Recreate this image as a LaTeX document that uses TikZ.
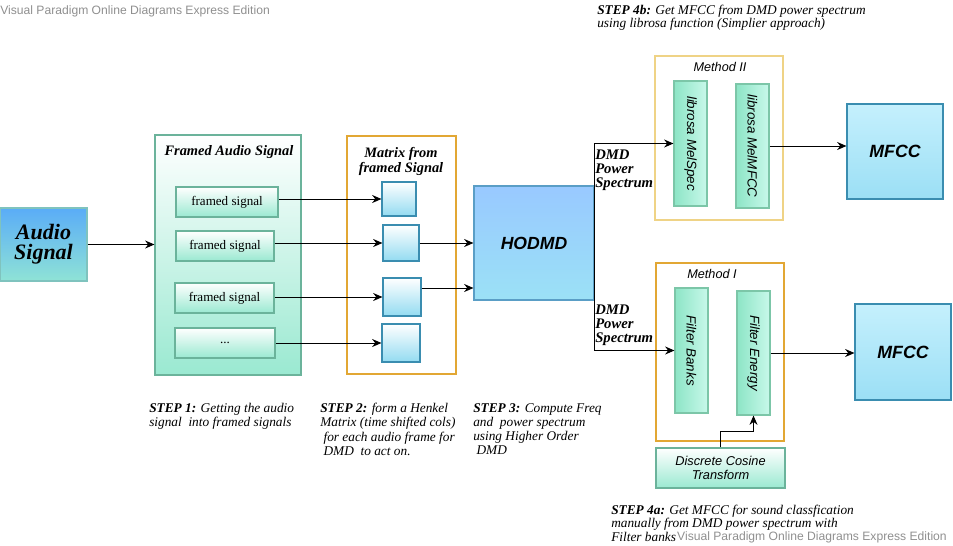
\documentclass[tikz,border=0pt]{standalone}
\usepackage{fontspec}
\usepackage{graphicx}
\setmainfont{Liberation Serif}
\setsansfont{Liberation Sans}
\usetikzlibrary{arrows.meta}

\definecolor{mintline}{HTML}{6BB39B}
\definecolor{mintbot}{HTML}{9AE9D1}
\definecolor{audioline}{HTML}{7FC3BE}
\definecolor{bluetop}{HTML}{5AACF7}
\definecolor{audiobot}{HTML}{8FE3D6}
\definecolor{orangeline}{HTML}{E2A734}
\definecolor{paleorange}{HTML}{EFD386}
\definecolor{sqline}{HTML}{3A8DB0}
\definecolor{sqbot}{HTML}{93DBF1}
\definecolor{hodtop}{HTML}{99C9FF}
\definecolor{hodbot}{HTML}{9BE1F6}
\definecolor{hodline}{HTML}{5A9EC6}
\definecolor{colline}{HTML}{7CC6A8}
\definecolor{colleft}{HTML}{8DE5C6}
\definecolor{colright}{HTML}{C8F8EA}
\definecolor{mfcctop}{HTML}{C5F0FD}
\definecolor{mfccbot}{HTML}{9BDFF5}
\definecolor{wmgray}{HTML}{8F8F8F}

\begin{document}
\begin{tikzpicture}[x=0.75pt,y=-0.75pt,
	mintbox/.style={draw=mintline,line width=0.8pt,top color=white,bottom color=mintbot},
	framebox/.style={mintbox,minimum height=22.5pt,font=\fontsize{9.8}{11}\selectfont},
	cell/.style={draw=sqline,line width=0.8pt,top color=white,bottom color=sqbot},
	group/.style={draw=orangeline,line width=0.8pt},
	col/.style={draw=colline,line width=0.8pt,left color=colleft,right color=colright,minimum width=24.75pt,font=\sffamily\itshape\fontsize{10}{12}\selectfont},
	mfcc/.style={draw=sqline,line width=0.8pt,top color=mfcctop,bottom color=mfccbot,minimum width=72pt,font=\sffamily\bfseries\itshape\fontsize{13.3}{15}\selectfont},
	dmd/.style={anchor=north west,inner sep=0pt,align=left,font=\bfseries\itshape\fontsize{11}{10.5}\selectfont},
	note/.style={anchor=north west,inner sep=0pt,align=left,font=\itshape\fontsize{10}{10.7}\selectfont},
	wmark/.style={inner sep=0pt,text=wmgray,font=\sffamily\fontsize{9.1}{11}\selectfont},
	line/.style={-{Stealth[length=7pt,width=6pt]},line width=0.75pt},
]
\useasboundingbox (0,0) rectangle (953,546);

% watermarks
\node[wmark,anchor=west] (wmtop) at (0,11) {Visual Paradigm Online Diagrams Express Edition};
\node[wmark,anchor=east] (wmbot) at (947,537) {Visual Paradigm Online Diagrams Express Edition};

% step 1: framing
\node[draw=audioline,line width=0.8pt,top color=bluetop,bottom color=audiobot,minimum width=65.25pt,minimum height=54.75pt,align=center,font=\bfseries\itshape\fontsize{16.5}{15}\selectfont] (audio) at (43.5,244.5) {Audio\\Signal};
\node[mintbox,minimum width=109.5pt,minimum height=180pt] (framed) at (228,255) {};
\node[font=\bfseries\itshape\fontsize{10.8}{12}\selectfont] (framedtitle) at (229,152) {Framed Audio Signal};
\node[framebox,minimum width=76.5pt] (fs1) at (227,202) {framed signal};
\node[framebox,minimum width=73.5pt] (fs2) at (225,246) {framed signal};
\node[framebox,minimum width=74.25pt] (fs3) at (224.5,298) {framed signal};
\node[framebox,minimum width=75pt] (fs4) at (225,343) {...};

% step 2: matrix
\node[group,minimum width=81.75pt,minimum height=178.5pt] (matrix) at (401.5,255) {};
\node[align=center,font=\bfseries\itshape\fontsize{10.8}{11.25}\selectfont] (matrixtitle) at (401,161) {Matrix from\\framed Signal};
\node[cell,minimum width=25.5pt,minimum height=25.5pt] (sq1) at (399,199) {};
\node[cell,minimum width=27pt,minimum height=27pt] (sq2) at (401,243) {};
\node[cell,minimum width=28.5pt,minimum height=28.5pt] (sq3) at (402,297) {};
\node[cell,minimum width=28.5pt,minimum height=28.5pt] (sq4) at (401,343) {};

% step 3
\node[draw=hodline,line width=0.8pt,top color=hodtop,bottom color=hodbot,minimum width=90pt,minimum height=85.5pt,font=\sffamily\bfseries\itshape\fontsize{13.2}{15}\selectfont] (hodmd) at (534,243) {HODMD};
\node[dmd] (dmdtop) at (595,150) {DMD\\Power\\Spectrum};
\node[dmd] (dmdbot) at (595,305) {DMD\\Power\\Spectrum};

% method II
\node[group,draw=paleorange,minimum width=96pt,minimum height=123pt] (method2) at (719,138) {};
\node[font=\sffamily\itshape\fontsize{9.5}{11}\selectfont] (m2title) at (720,67) {Method II};
\node[col,minimum height=93.75pt] (melspec) at (690.5,143.5) {\rotatebox{-90}{librosa MelSpec}};
\node[col,minimum height=93pt] (melmfcc) at (752.5,146) {\rotatebox{-90}{librosa MelMFCC}};
\node[mfcc,minimum height=71.25pt] (mfcc1) at (895,151.5) {MFCC};

% method I
\node[group,minimum width=96pt,minimum height=133.5pt] (method1) at (720,352) {};
\node[font=\sffamily\itshape\fontsize{9.5}{11}\selectfont] (m1title) at (712,274) {Method I};
\node[col,minimum height=93.75pt] (fbanks) at (691.5,350.5) {\rotatebox{-90}{Filter Banks}};
\node[col,minimum height=93pt] (fenergy) at (753.5,353) {\rotatebox{-90}{Filter Energy}};
\node[mfcc,minimum height=72pt] (mfcc2) at (903,352) {MFCC};
\node[mintbox,minimum width=96.75pt,minimum height=30pt,align=center,font=\sffamily\itshape\fontsize{9.6}{10}\selectfont] (dct) at (720.5,468) {Discrete Cosine\\Transform};

% notes
\node[note] (step1) at (149,403) {\textbf{STEP 1:} Getting the audio\\signal\ \ into framed signals};
\node[note] (step2) at (320,403) {\textbf{STEP 2:} form a Henkel\\Matrix (time shifted cols)\\\hspace{2.5pt}for each audio frame for\\\hspace{2.5pt}DMD\ \ to act on.};
\node[note] (step3) at (473,403) {\textbf{STEP 3:} Compute Freq\\and\ \ power spectrum\\using Higher Order\\\hspace{2.5pt}DMD};
\node[note,font=\itshape\fontsize{10}{10}\selectfont] (step4b) at (597,5) {\textbf{STEP 4b:} Get MFCC from DMD power spectrum\\using librosa function (Simplier approach)};
\node[note,font=\itshape\fontsize{10}{10}\selectfont] (step4a) at (611,505) {\textbf{STEP 4a:} Get MFCC for sound classfication\\manually from DMD power spectrum with\\Filter banks};

% connectors
\draw[line] (audio.east) -- (audio.east -| framed.west);
\foreach \i in {1,...,4}
	\draw[line] (fs\i.east |- sq\i) -- (sq\i.west);
\draw[line] (sq2.east) -- (sq2.east -| hodmd.west);
\draw[line] ([yshift=6.75pt]sq3.east) coordinate (s3out) -- (s3out -| hodmd.west);
\draw[line] (hodmd.east) |- (melspec.west);
\draw[line] (hodmd.east) |- (fbanks.west);
\draw[line] (melmfcc.east) -- (melmfcc.east -| mfcc1.west);
\draw[line] (fenergy.east) -- (fenergy.east -| mfcc2.west);
\draw[line] (dct.north) -- ++(0,-16) -| (fenergy.south);

\end{tikzpicture}
\end{document}
